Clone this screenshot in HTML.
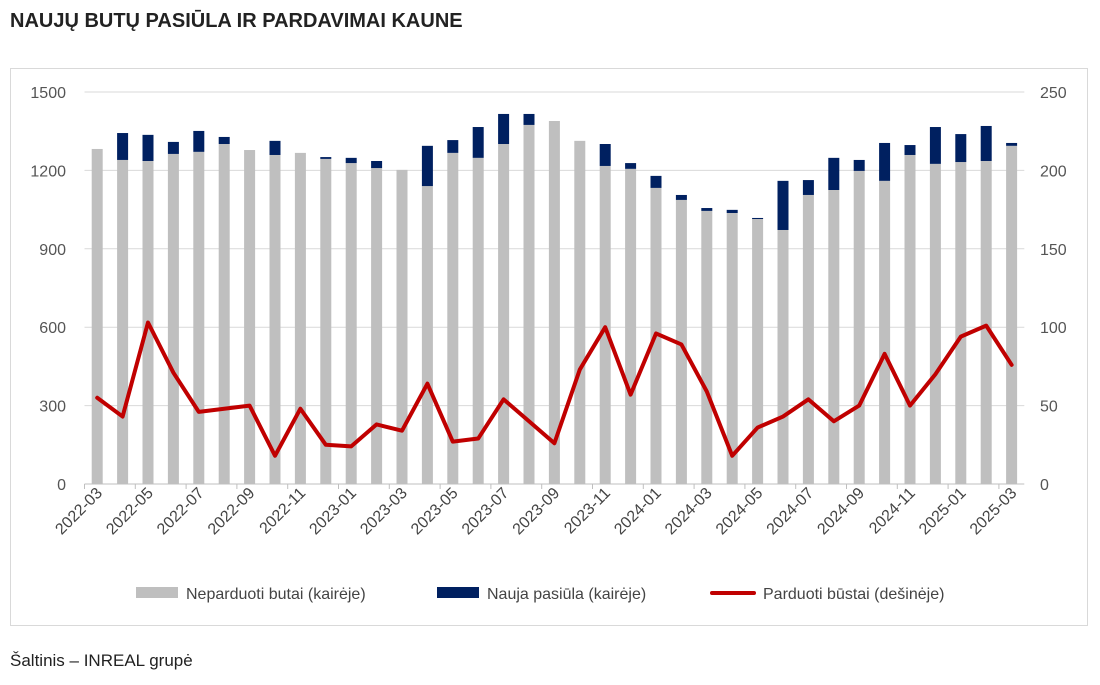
<!DOCTYPE html>
<html><head><meta charset="utf-8"><style>
body{margin:0;background:#fff;width:1100px;height:680px;overflow:hidden;font-family:"Liberation Sans",sans-serif;}
</style></head><body>
<svg width="1100" height="680" xmlns="http://www.w3.org/2000/svg" font-family="Liberation Sans, sans-serif">
<text x="10" y="27" font-size="20" font-weight="bold" fill="#222">NAUJŲ BUTŲ PASIŪLA IR PARDAVIMAI KAUNE</text>
<rect x="10.5" y="68.5" width="1077" height="557" fill="none" stroke="#d9d9d9"/>
<g id="grid"></g><g id="bars"></g><g id="line"></g><g id="axes"></g>
<g font-size="16" fill="#444">
<rect x="136" y="587" width="42" height="11" fill="#bfbfbf"/>
<text x="186" y="599">Neparduoti butai (kairėje)</text>
<rect x="437" y="587" width="42" height="11" fill="#002060"/>
<text x="487" y="599">Nauja pasiūla (kairėje)</text>
<line x1="712" y1="593" x2="754" y2="593" stroke="#c00000" stroke-width="4" stroke-linecap="round"/>
<text x="763" y="599">Parduoti būstai (dešinėje)</text>
</g>
<text x="10" y="666" font-size="17" fill="#222">Šaltinis – INREAL grupė</text>
</svg>
<script>
const categories=["2022-03","2022-04","2022-05","2022-06","2022-07","2022-08","2022-09","2022-10","2022-11","2022-12","2023-01","2023-02","2023-03","2023-04","2023-05","2023-06","2023-07","2023-08","2023-09","2023-10","2023-11","2023-12","2024-01","2024-02","2024-03","2024-04","2024-05","2024-06","2024-07","2024-08","2024-09","2024-10","2024-11","2024-12","2025-01","2025-02","2025-03"];
const unsold=[1282,1240,1236,1263,1271,1301,1278,1259,1267,1244,1228,1209,1202,1140,1267,1248,1301,1374,1389,1313,1217,1206,1133,1087,1045,1037,1014,972,1106,1125,1198,1160,1259,1225,1232,1236,1294];
const newSupply=[0,103,100,46,80,27,0,54,0,7,20,27,0,154,49,118,115,42,0,0,84,22,46,19,11,12,4,188,57,123,42,145,38,141,107,134,11];
const sold=[55,43,103,71,46,48,50,18,48,25,24,38,34,64,27,29,54,40,26,73,100,57,96,89,59,18,36,43,54,40,50,83,50,70,94,101,76];
const leftTicks=[0,300,600,900,1200,1500];
const rightTicks=[0,50,100,150,200,250];
const NS="http://www.w3.org/2000/svg";
const x0=84.5,step=25.4,yTop=92,yBot=484;
const xC=i=>x0+step*(i+0.5);
const yL=v=>yBot-(v/1500)*(yBot-yTop);
const yR=v=>yBot-(v/250)*(yBot-yTop);
function mk(tag,attrs,parent){const e=document.createElementNS(NS,tag);for(const k in attrs)e.setAttribute(k,attrs[k]);document.getElementById(parent).appendChild(e);return e;}
leftTicks.forEach((t,i)=>{
 if(t>0){const g=mk('line',{x1:x0,x2:x0+step*37,y1:yL(t),y2:yL(t),stroke:'#d9d9d9'},'grid');
 
 }
 const a=mk('text',{x:66,y:yL(t)+6,'text-anchor':'end','font-size':16,fill:'#555'},'axes');a.textContent=t;
 
 
 const b=mk('text',{x:1040,y:yR(rightTicks[i])+6,'font-size':16,fill:'#555'},'axes');b.textContent=rightTicks[i];
 
 
});
categories.forEach((c,i)=>{
 const g=mk('rect',{x:xC(i)-5.5,y:yL(unsold[i]),width:11,height:yBot-yL(unsold[i]),fill:'#bfbfbf'},'bars');
 
 
 if(newSupply[i]>0){const n=mk('rect',{x:xC(i)-5.5,y:yL(unsold[i]+newSupply[i]),width:11,height:yL(unsold[i])-yL(unsold[i]+newSupply[i]),fill:'#002060'},'bars');
 
 }
 if(i%2===0){
  const t=mk('text',{transform:`translate(${xC(i)+6},${yBot+10}) rotate(-45)`,'text-anchor':'end','font-size':16,fill:'#444'},'axes');t.textContent=c;
  
  
  const tk=mk('line',{x1:x0+step*i,x2:x0+step*i,y1:yBot,y2:yBot+5,stroke:'#bfbfbf'},'axes');
  
  
 }
});
const ax=mk('line',{x1:x0,x2:x0+step*37,y1:yBot,y2:yBot,stroke:'#bfbfbf'},'axes');


const p=mk('polyline',{points:sold.map((v,i)=>xC(i)+','+yR(v)).join(' '),fill:'none',stroke:'#c00000','stroke-width':4,'stroke-linejoin':'round','stroke-linecap':'round'},'line');


</script>
</body></html>
